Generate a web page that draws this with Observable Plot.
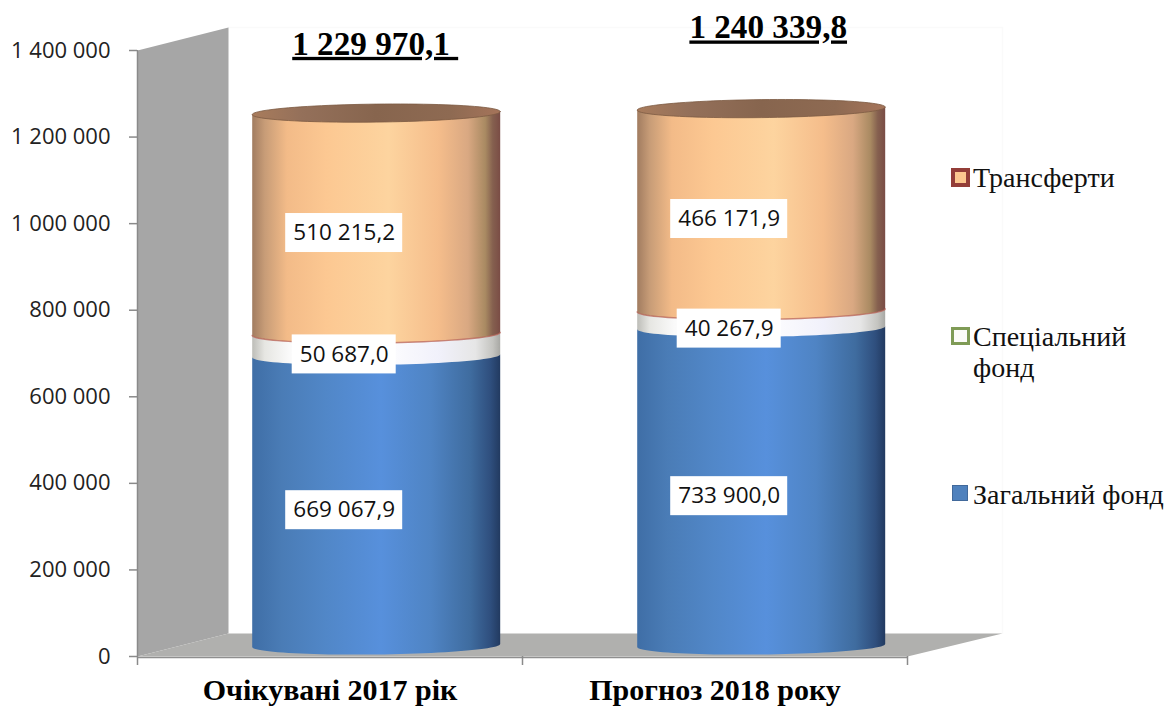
<!DOCTYPE html>
<html lang="uk">
<head>
<meta charset="utf-8">
<script src="https://cdn.jsdelivr.net/npm/d3@7"></script>
<script src="https://cdn.jsdelivr.net/npm/@observablehq/plot@0.6"></script>
<style>
  html, body { margin: 0; padding: 0; background: #fff; }
  #chart { position: relative; width: 1168px; height: 707px; overflow: hidden; }
  #chart svg { display: block; }
  .legend { position: absolute; left: 0; top: 0; font: 28px/31px "Liberation Serif", serif; color: #111; }
  .legend div { position: absolute; }
  .legend .swatch { box-sizing: border-box; }
</style>
</head>
<body>
<div id="chart"></div>
<script>
// Budget expenditure by fund, thousand UAH
const categories = ["Очікувані 2017 рік", "Прогноз 2018 року"];
const generalFund = [669067.9, 733900.0];
const specialFund = [50687.0, 40267.9];
const transfers = [510215.2, 466171.9];
const totals = [1229970.1, 1240339.8];
const seriesNames = ["Загальний фонд", "Спеціальний фонд", "Трансферти"];
const yTicks = [0, 200000, 400000, 600000, 800000, 1000000, 1200000, 1400000];
const xEdges = [0, 1, 2];

const plotLeft = 137, plotRight = 907, plotTop = 50, plotBottom = 656;
const pxX = 1 / 385;                               // x units per pixel
const pxY = 1400000 / (plotBottom - plotTop);      // y units per pixel

const ruFormat = (v, d = 1) => v.toFixed(d).replace(".", ",").replace(/\B(?=(\d{3})+(?!\d))/g, " ");
const axisFormat = v => String(v).replace(/\B(?=(\d{3})+(?!\d))/g, " ");

// Oblique depth of the chart box, in data units
const depthX = 91 * pxX, depthY = 23 * pxY;
const floorTip = 95 * pxX;
const wall = [[0, 0], [0, 1400000], [depthX, 1400000 + depthY], [depthX, depthY]];
const floor = [[0, 0], [2, 0], [2 + floorTip, depthY], [depthX, depthY]];
const backEdge = [[depthX, 1400000 + depthY], [2 + floorTip, 1400000 + depthY], [2 + floorTip, depthY]];

// Cylinder geometry: an ellipse swept along the stack
const centre = i => i + 0.62;
const rx = 124 * pxX, ry = 9 * pxY, lift = 11 * pxY, tilt = 1.5 * pxY;
const rim = (i, level, t) => ({
  cyl: i,
  x: centre(i) + rx * Math.cos(t),
  y: level + lift - ry * Math.sin(t) + tilt * Math.cos(t)
});
const arcSteps = d3.range(0, 49).map(k => k * Math.PI / 48);

// Body of one stacked band: flat upper chord, rounded lower front edge
const band = (lows, highs) => lows.flatMap((low, i) => [
  rim(i, highs[i], Math.PI), rim(i, highs[i], 0),
  ...arcSteps.map(t => rim(i, low, t))
]);
const cum1 = generalFund;
const cum2 = generalFund.map((v, i) => v + specialFund[i]);
const cum3 = cum2.map((v, i) => v + transfers[i]);

const generalBand = band([0, 0], cum1);
const specialBand = band(cum1, cum2);
const transferBand = band(cum2, cum3);
const topCap = cum3.flatMap((v, i) => d3.range(0, 97).map(k => rim(i, v, k * Math.PI / 48)));
const seam = cum2.flatMap((v, i) => arcSteps.map(t => rim(i, v, t)));

// Value labels on white plates, at each segment's stacked midpoint
const plateShift = 1.5 * pxY, plateH = 39 * pxY, charW = 13 * pxX, labelOffset = 32 * pxX;
const valueLabels = [
  ...generalFund.map((v, i) => ({ i, v, mid: v / 2 })),
  ...specialFund.map((v, i) => ({ i, v, mid: cum1[i] + v / 2 })),
  ...transfers.map((v, i) => ({ i, v, mid: cum2[i] + v / 2 }))
].map(d => {
  const text = ruFormat(d.v);
  return {
    text,
    x: centre(d.i) - labelOffset,
    y: d.mid + plateShift,
    halfW: text.length * charW / 2
  };
});

// Totals stand clear above each cylinder
const totalLift = [184500, 212000];
const totalShift = [-1 * pxX, 7 * pxX];
const totalLabels = totals.map((v, i) => ({
  text: ruFormat(v) + (i === 0 ? "\u00a0" : ""),
  x: centre(i) + totalShift[i],
  y: v + totalLift[i]
}));

const stops = (id, list) => {
  const g = d3.create("svg:linearGradient").attr("id", id);
  list.forEach(([o, c]) => g.append("stop").attr("offset", o).attr("stop-color", c));
  return g.node();
};
const gradients = () => {
  const defs = d3.create("svg:defs");
  [
    stops("gBlue", [[0, "#3f6ea6"], [0.12, "#4a7cb6"], [0.3, "#5187c8"], [0.52, "#5790dc"], [0.72, "#4f84c4"], [0.88, "#3f6c9f"], [0.96, "#2f4f7e"], [1, "#223a60"]]),
    stops("gWhite", [[0, "#bdbdb8"], [0.05, "#e6e6e2"], [0.15, "#fafafa"], [0.5, "#ffffff"], [0.75, "#f1f1fb"], [0.9, "#e6e6e6"], [0.97, "#c4c4c0"], [1, "#a8a8a4"]]),
    stops("gOrange", [[0, "#a17c60"], [0.05, "#c79c77"], [0.14, "#f3bb88"], [0.3, "#fcc892"], [0.55, "#fdd49f"], [0.75, "#f5bd8b"], [0.87, "#d9a882"], [0.94, "#a98a62"], [0.97, "#85604f"], [1, "#7a4c45"]]),
    stops("gCap", [[0, "#a97c5c"], [0.2, "#94705a"], [0.5, "#87654e"], [0.8, "#8e6a52"], [1, "#a5745a"]])
  ].forEach(n => defs.node().appendChild(n));
  return defs.node();
};

const chart = Plot.plot({
  width: 1168,
  height: 707,
  marginLeft: plotLeft,
  marginRight: 1168 - plotRight,
  marginTop: plotTop,
  marginBottom: 707 - plotBottom,
  style: { background: "#fff", overflow: "visible" },
  x: { domain: [0, 2] },
  y: { domain: [0, 1400000] },
  marks: [
    gradients,
    Plot.line(backEdge, { stroke: "#fafafa", strokeWidth: 1.5 }),
    Plot.line(wall, { fill: "#a6a6a6", stroke: "none" }),
    Plot.line(floor, { fill: "#b0b0ae", stroke: "none" }),

    Plot.axisY({
      ticks: yTicks, tickFormat: axisFormat, tickSize: 8, tickPadding: 19,
      stroke: "#8a8a8a", strokeWidth: 1.5, color: "#222",
      fontFamily: "Open Sans", fontSize: 22, label: null
    }),
    Plot.ruleX([0], { stroke: "#8a8a8a", strokeWidth: 1.5 }),
    Plot.ruleY([0], { stroke: "#8f8f8f", strokeWidth: 1.5, dy: 1 }),
    Plot.axisX({
      ticks: xEdges, tickFormat: () => "", tickSize: 9,
      stroke: "#8a8a8a", strokeWidth: 1.5, label: null
    }),
    Plot.axisX({
      ticks: [0.5, 1.5], tickFormat: (d, i) => categories[i], tickSize: 0, tickPadding: 22,
      fontFamily: "Liberation Serif", fontSize: 30, fontWeight: "bold", color: "#000", label: null
    }),

    Plot.line(generalBand, { x: "x", y: "y", z: "cyl", fill: "url(#gBlue)", stroke: "none" }),
    Plot.line(specialBand, { x: "x", y: "y", z: "cyl", fill: "url(#gWhite)", stroke: "none" }),
    Plot.line(transferBand, { x: "x", y: "y", z: "cyl", fill: "url(#gOrange)", stroke: "none" }),
    Plot.line(seam, { x: "x", y: "y", z: "cyl", stroke: "#b8645a", strokeWidth: 1.4, strokeOpacity: 0.75 }),
    Plot.line(topCap, { x: "x", y: "y", z: "cyl", fill: "url(#gCap)", stroke: "#7c5a42", strokeWidth: 0.8 }),

    Plot.rect(valueLabels, {
      x1: d => d.x - d.halfW, x2: d => d.x + d.halfW,
      y1: d => d.y - plateH / 2, y2: d => d.y + plateH / 2,
      fill: "#fff"
    }),
    Plot.text(valueLabels, {
      x: "x", y: "y", text: "text", fill: "#111",
      fontFamily: "Open Sans", fontSize: 22.5
    }),
    Plot.text(totalLabels, {
      x: "x", y: "y", text: "text", fill: "#000",
      fontFamily: "Liberation Serif", fontSize: 33.2, fontWeight: "bold",
      render(index, scales, values, dims, ctx, next) {
        const g = next(index, scales, values, dims, ctx);
        d3.select(g).selectAll("text").style("text-decoration", "underline");
        return g;
      }
    })
  ]
});

const host = document.getElementById("chart");
host.appendChild(chart);

// Legend set beside the plot, top to bottom in stack order
const legend = d3.select(host).append("div").attr("class", "legend");
const swatches = [
  { name: seriesNames[2], x: 951, y: 168, w: 19, h: 19, fill: "#fcc78f", border: "#933d38", bw: 4, textY: 162 },
  { name: seriesNames[1], x: 951, y: 327, w: 19, h: 18, fill: "#fbfbf8", border: "#7f9b56", bw: 3, textY: 321 },
  { name: seriesNames[0], x: 952, y: 485, w: 16, h: 16, fill: "#4f81bd", border: "#41699b", bw: 1, textY: 479 }
];
swatches.forEach(s => {
  legend.append("div").attr("class", "swatch")
    .style("left", s.x + "px").style("top", s.y + "px")
    .style("width", s.w + "px").style("height", s.h + "px")
    .style("background", s.fill).style("border", `${s.bw}px solid ${s.border}`);
  legend.append("div")
    .style("left", "973px").style("top", s.textY + "px").style("width", "194px")
    .text(s.name);
});
</script>
</body>
</html>
